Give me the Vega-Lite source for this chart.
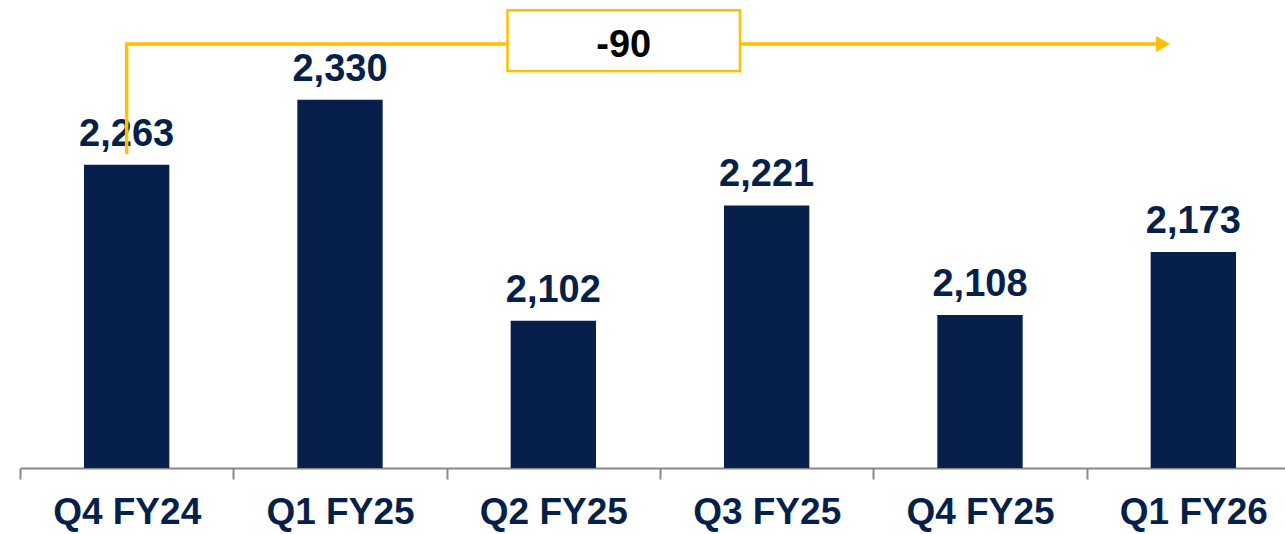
{
  "$schema": "https://vega.github.io/schema/vega-lite/v6.json",
  "width": 1265,
  "height": 468,
  "autosize": {"type": "none"},
  "padding": {"left": 20, "top": 0, "right": 0, "bottom": 66},
  "background": "white",
  "config": {"view": {"stroke": null}, "font": "Liberation Sans"},
  "datasets": {
    "bars": [
      {"quarter": "Q4 FY24", "value": 2263},
      {"quarter": "Q1 FY25", "value": 2330},
      {"quarter": "Q2 FY25", "value": 2102},
      {"quarter": "Q3 FY25", "value": 2221},
      {"quarter": "Q4 FY25", "value": 2108},
      {"quarter": "Q1 FY26", "value": 2173}
    ],
    "path": [
      {"x": 0.5, "y": 2274, "o": 1},
      {"x": 0.5, "y": 2387.6, "o": 2},
      {"x": 5.33, "y": 2387.6, "o": 3}
    ],
    "box": [
      {"x": 2.285, "x2": 3.375, "y": 2359.7, "y2": 2422.4, "label": "-90", "tx": 2.83, "ty": 2374}
    ],
    "arrow": [{"x": 5.358, "y": 2387.6}]
  },
  "layer": [
    {
      "data": {"name": "bars"},
      "encoding": {
        "x": {
          "field": "quarter",
          "type": "nominal",
          "sort": null,
          "title": null,
          "scale": {"range": [0, 1280], "paddingInner": 0.6, "paddingOuter": 0.3},
          "axis": {
            "domainColor": "#888888",
            "domainWidth": 2,
            "tickColor": "#888888",
            "tickWidth": 2,
            "tickSize": 11,
            "tickOffset": -106.7,
            "labelOffset": 106.7,
            "labelFont": "Liberation Sans",
            "labelFontSize": 37,
            "labelFontWeight": "bold",
            "labelColor": "#061f4b",
            "labelBaseline": "alphabetic",
            "labelPadding": 44,
            "labelAngle": 0,
            "labelOverlap": false,
            "labelBound": false,
            "grid": false
          }
        },
        "y": {
          "field": "value",
          "type": "quantitative",
          "scale": {"domain": [1950, 2433], "nice": false, "zero": false},
          "axis": null
        }
      },
      "layer": [
        {
          "mark": {"type": "bar", "color": "#061f4b"},
          "encoding": {"y2": {"datum": 1950}}
        },
        {
          "mark": {
            "type": "text",
            "font": "Liberation Sans",
            "fontSize": 38,
            "fontWeight": "bold",
            "color": "#061f4b",
            "baseline": "alphabetic",
            "align": "center",
            "dy": -19
          },
          "encoding": {"text": {"field": "value", "type": "quantitative", "format": ","}}
        }
      ]
    },
    {
      "layer": [
        {
          "data": {"name": "path"},
          "mark": {"type": "line", "color": "#FFC000", "strokeWidth": 3.5, "strokeJoin": "miter", "strokeCap": "butt"},
          "encoding": {
            "x": {"field": "x", "type": "quantitative", "scale": {"domain": [0, 6], "range": [0, 1280], "nice": false, "zero": false}, "axis": null},
            "y": {"field": "y", "type": "quantitative"},
            "order": {"field": "o"}
          }
        },
        {
          "data": {"name": "box"},
          "mark": {"type": "rect", "fill": "white", "stroke": "#FFC000", "strokeWidth": 2.5},
          "encoding": {
            "x": {"field": "x", "type": "quantitative", "scale": {"domain": [0, 6], "range": [0, 1280], "nice": false, "zero": false}, "axis": null},
            "x2": {"field": "x2"},
            "y": {"field": "y", "type": "quantitative"},
            "y2": {"field": "y2"}
          }
        },
        {
          "data": {"name": "box"},
          "mark": {
            "type": "text",
            "font": "Liberation Sans",
            "fontSize": 38,
            "fontWeight": "bold",
            "color": "#000000",
            "baseline": "alphabetic",
            "align": "center"
          },
          "encoding": {
            "x": {"field": "tx", "type": "quantitative", "scale": {"domain": [0, 6], "range": [0, 1280], "nice": false, "zero": false}, "axis": null},
            "y": {"field": "ty", "type": "quantitative"},
            "text": {"field": "label"}
          }
        },
        {
          "data": {"name": "arrow"},
          "mark": {"type": "point", "shape": "triangle-right", "filled": true, "color": "#FFC000", "size": 260, "opacity": 1},
          "encoding": {
            "x": {"field": "x", "type": "quantitative", "scale": {"domain": [0, 6], "range": [0, 1280], "nice": false, "zero": false}, "axis": null},
            "y": {"field": "y", "type": "quantitative"}
          }
        }
      ]
    }
  ],
  "resolve": {"scale": {"x": "independent"}, "axis": {"x": "independent"}}
}
